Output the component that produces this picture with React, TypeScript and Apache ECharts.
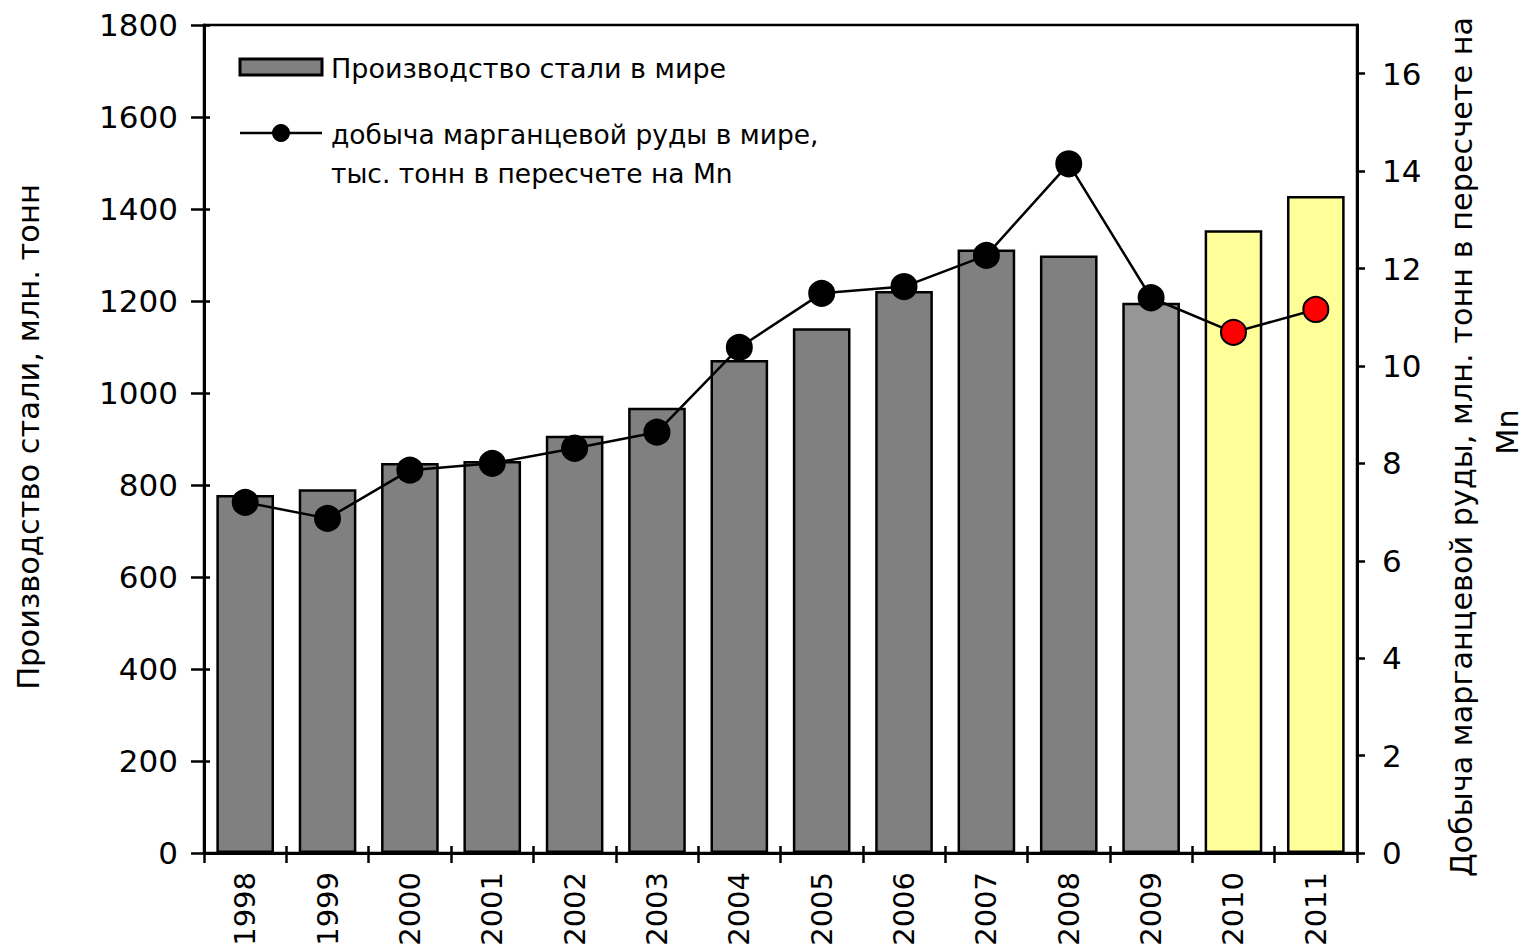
import React, { useEffect, useRef } from "react";
import * as echarts from "echarts";

const years = ["1998", "1999", "2000", "2001", "2002", "2003", "2004", "2005", "2006", "2007", "2008", "2009", "2010", "2011"];
const steel = [778, 791, 848, 852, 907, 968, 1072, 1141, 1222, 1312, 1299, 1196, 1354, 1428];
const manganese = [7.2, 6.87, 7.86, 8.0, 8.31, 8.64, 10.38, 11.49, 11.63, 12.27, 14.15, 11.4, 10.69, 11.16];
const leftTicks = [0, 200, 400, 600, 800, 1000, 1200, 1400, 1600, 1800];
const rightTicks = [0, 2, 4, 6, 8, 10, 12, 14, 16];
const barColors = ["#808080", "#808080", "#808080", "#808080", "#808080", "#808080", "#808080", "#808080", "#808080", "#808080", "#808080", "#969696", "#FFFF99", "#FFFF99"];
const pointColors = ["#000", "#000", "#000", "#000", "#000", "#000", "#000", "#000", "#000", "#000", "#000", "#000", "#FF0000", "#FF0000"];

const legendBar = "Производство стали в мире";
const legendLine1 = "добыча марганцевой руды в мире,";
const legendLine2 = "тыс. тонн в пересчете на Mn";
const leftTitle = "Производство стали, млн. тонн";
const rightTitle1 = "Добыча марганцевой руды, млн. тонн в пересчете на";
const rightTitle2 = "Mn";

const FONT = "'DejaVu Sans', sans-serif";

export default function App() {
  const ref = useRef<HTMLDivElement>(null);
  useEffect(() => {
    document.body.style.margin = "0";
    const chart = echarts.init(ref.current!, null, { renderer: "svg" });
    const labelStyle = { color: "#000", fontSize: 31, fontFamily: FONT };
    chart.setOption({
      animation: false,
      backgroundColor: "#fff",
      grid: { left: 204, right: 167, top: 25, bottom: 98, outerBoundsMode: "none", containLabel: false, show: true, borderColor: "#000", borderWidth: 2.5, backgroundColor: "transparent" },
      xAxis: [
        {
          type: "category",
          data: years,
          boundaryGap: true,
          axisLine: { lineStyle: { color: "#000", width: 3 } },
          axisTick: { show: true, length: 10, lineStyle: { color: "#000", width: 2.5 } },
          axisLabel: { ...labelStyle, fontSize: 29, rotate: 90, margin: 19 },
        },
        {
          type: "category",
          data: years,
          position: "bottom",
          axisLine: { show: false },
          axisTick: { show: true, inside: true, length: 7, lineStyle: { color: "#000", width: 2.5 } },
          axisLabel: { show: false },
        },
      ],
      yAxis: [
        {
          type: "value",
          min: 0,
          max: 1800,
          interval: 200,
          position: "left",
          splitLine: { show: false },
          axisLine: { show: true, lineStyle: { color: "#000", width: 3 } },
          axisTick: { show: true, length: 13, lineStyle: { color: "#000", width: 2.5 }, customValues: leftTicks },
          axisLabel: { ...labelStyle, margin: 26, customValues: leftTicks, formatter: (v: number) => String(v) },
        },
        {
          type: "value",
          min: 0,
          max: 17,
          position: "right",
          splitLine: { show: false },
          axisLine: { show: true, lineStyle: { color: "#000", width: 3 } },
          axisTick: { show: true, length: 8, lineStyle: { color: "#000", width: 2.5 }, customValues: rightTicks },
          axisLabel: { ...labelStyle, margin: 25, customValues: rightTicks, formatter: (v: number) => String(v) },
        },
        {
          type: "value",
          min: 0,
          max: 1800,
          interval: 200,
          position: "left",
          splitLine: { show: false },
          axisLine: { show: false },
          axisTick: { show: true, inside: true, length: 6, lineStyle: { color: "#000", width: 2.5 }, customValues: leftTicks },
          axisLabel: { show: false },
        },
      ],
      series: [
        {
          type: "bar",
          name: legendBar,
          xAxisIndex: 0,
          yAxisIndex: 0,
          barCategoryGap: "30%",
          data: steel.map((v, i) => ({ value: v, itemStyle: { color: barColors[i] } })),
          itemStyle: { borderColor: "#000", borderWidth: 2.5 },
        },
        {
          type: "line",
          name: legendLine1,
          xAxisIndex: 0,
          yAxisIndex: 1,
          symbol: "circle",
          symbolSize: 25,
          lineStyle: { color: "#000", width: 2.5 },
          data: manganese.map((v, i) => ({ value: v, itemStyle: { color: pointColors[i], borderColor: "#000", borderWidth: 2 } })),
        },
      ],
      graphic: [
        { type: "rect", shape: { x: 240, y: 59, width: 82, height: 16 }, style: { fill: "#808080", stroke: "#000", lineWidth: 3 } },
        { type: "text", x: 331, y: 68, style: { text: legendBar, fontSize: 27, fontFamily: FONT, fill: "#000", verticalAlign: "middle" } },
        { type: "line", shape: { x1: 240, y1: 133, x2: 322, y2: 133 }, style: { stroke: "#000", lineWidth: 2.5 } },
        { type: "circle", shape: { cx: 281, cy: 133, r: 9 }, style: { fill: "#000" } },
        { type: "text", x: 331, y: 134, style: { text: legendLine1, fontSize: 26.5, fontFamily: FONT, fill: "#000", verticalAlign: "middle" } },
        { type: "text", x: 331, y: 173, style: { text: legendLine2, fontSize: 26.5, fontFamily: FONT, fill: "#000", verticalAlign: "middle" } },
        { type: "text", x: 28, y: 437, rotation: Math.PI / 2, style: { text: leftTitle, fontSize: 30.5, fontFamily: FONT, fill: "#000", align: "center", verticalAlign: "middle" } },
        { type: "text", x: 1461, y: 447, rotation: Math.PI / 2, style: { text: rightTitle1, fontSize: 30.3, fontFamily: FONT, fill: "#000", align: "center", verticalAlign: "middle" } },
        { type: "text", x: 1507, y: 432, rotation: Math.PI / 2, style: { text: rightTitle2, fontSize: 30.3, fontFamily: FONT, fill: "#000", align: "center", verticalAlign: "middle" } },
      ],
    });
    return () => chart.dispose();
  }, []);
  return <div ref={ref} style={{ width: 1524, height: 951, position: "fixed", left: 0, top: 0 }} />;
}
